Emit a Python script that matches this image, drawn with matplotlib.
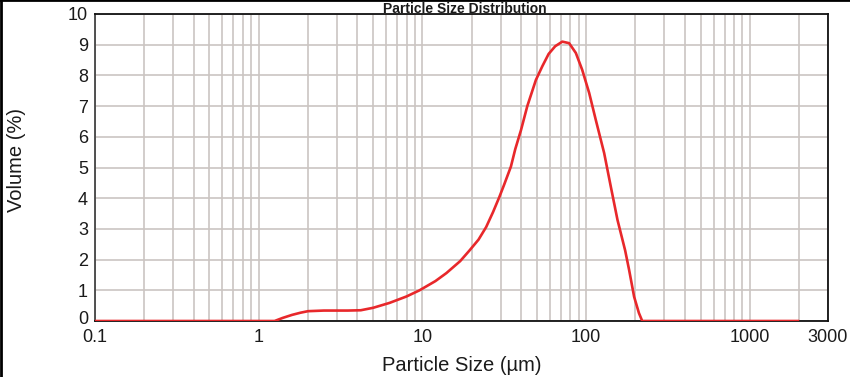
import matplotlib
matplotlib.use("Agg")
import matplotlib.pyplot as plt
from matplotlib.lines import Line2D
from matplotlib.ticker import LogLocator, NullFormatter
from matplotlib.transforms import ScaledTranslation

plt.rcParams['font.family'] = ['Liberation Sans', 'DejaVu Sans']

# Particle size (µm) and volume (%)
size_um = [0.1, 1.2, 1.25, 1.4, 1.6, 1.8, 2.0, 2.5, 3.0, 3.5, 4.2, 5.0, 6.3, 8.0,
           9.6, 12, 14, 17, 19.4, 22, 24.5, 27, 29.5, 31.6, 34.7, 36.9, 40.0, 43.7,
           49.3, 54, 59, 64.7, 71.5, 78.7, 86.5, 94.6, 104.3, 114.5, 128.8, 141.5,
           155.4, 173, 183, 196.3, 210, 220, 2000]
volume_pct = [0, 0, 0, 0.1, 0.2, 0.27, 0.32, 0.34, 0.34, 0.34, 0.35, 0.43, 0.59, 0.8,
              1.0, 1.3, 1.56, 1.95, 2.3, 2.65, 3.06, 3.55, 4.04, 4.45, 5.03, 5.6, 6.22,
              7.0, 7.85, 8.3, 8.7, 8.95, 9.1, 9.05, 8.73, 8.18, 7.43, 6.55, 5.47, 4.37,
              3.29, 2.3, 1.66, 0.79, 0.26, 0, 0]

x_ticks = [0.1, 1, 10, 100, 1000, 3000]
x_tick_labels = ["0.1", "1", "10", "100", "1000", "3000"]
y_ticks = list(range(0, 11))

fig = plt.figure(figsize=(8.5, 3.77), dpi=100)
ax = fig.add_axes([95/850, 1 - 321/377, (828-95)/850, (321-14)/377])

ax.plot(size_um, volume_pct, color='#e8282b', lw=1.9, zorder=3,
        solid_joinstyle='round', solid_capstyle='butt')

ax.set_xscale('log')
ax.set_xlim(0.1, 3000)
ax.set_ylim(0, 10)
ax.set_xticks(x_ticks)
ax.set_xticklabels(x_tick_labels)
ax.xaxis.set_minor_locator(LogLocator(base=10, subs=range(2, 10), numticks=20))
ax.xaxis.set_minor_formatter(NullFormatter())
ax.set_yticks(y_ticks)

grid_color = '#cbc5c2'
ax.grid(True, which='both', axis='x', color=grid_color, lw=1.2, zorder=1)
ax.grid(True, which='major', axis='y', color=grid_color, lw=1.2, zorder=1)

ax.tick_params(axis='both', which='both', length=0, labelsize=13, colors='#1a1a1a')
ax.tick_params(axis='x', pad=6)
ax.tick_params(axis='y', pad=5)

# the "0" y label sits slightly above its gridline in the reference
fig.canvas.draw()
zero_label = ax.get_yticklabels()[0]
zero_label.set_transform(zero_label.get_transform() + ScaledTranslation(0, 4/100, fig.dpi_scale_trans))

for side in ['top', 'bottom', 'right']:
    ax.spines[side].set_color('#111111')
    ax.spines[side].set_linewidth(1.3)
ax.spines['left'].set_color('#444444')
ax.spines['left'].set_linewidth(1.3)

fig.text(465/850, 1 - 13/377, "Particle Size Distribution", ha='center', va='baseline',
         fontsize=10, fontweight='bold', color='#1a1a1a')
fig.text(462/850, 1 - 371/377, "Particle Size (µm)", ha='center', va='baseline',
         fontsize=14.5, color='#1a1a1a')
fig.text(17/850, 1 - 160/377, "Volume (%)", ha='center', va='center', rotation=90,
         fontsize=14.5, color='#1a1a1a')

# thin black frame at left and top of figure
fig.add_artist(Line2D([0.001, 0.001], [0, 1], transform=fig.transFigure, color='black', lw=2))
fig.add_artist(Line2D([0, 1], [0.999, 0.999], transform=fig.transFigure, color='black', lw=2))

fig.savefig("out.png", dpi=100, facecolor='white')
